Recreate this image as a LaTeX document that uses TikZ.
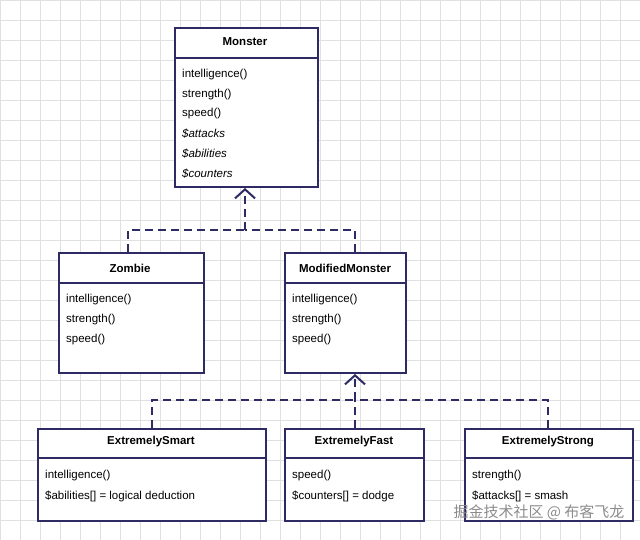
\documentclass[tikz,border=0pt]{standalone}
\usepackage{fontspec}
\setmainfont{Liberation Sans}
\newfontfamily\cjk{Noto Sans CJK SC}
\usetikzlibrary{positioning,arrows.meta}
\definecolor{uml}{RGB}{45,42,100}
\tikzset{
  box/.style={draw=uml,line width=2pt,fill=white,anchor=north west,inner sep=0pt},
  title/.style={font=\bfseries\fontsize{11.5}{13}\selectfont,text=black},
  row/.style={font=\fontsize{11.5}{13}\selectfont,anchor=west,text=black,inner sep=0pt},
  sep/.style={draw=uml,line width=2pt},
  inherit/.style={draw=uml,line width=2pt,dash pattern=on 8pt off 5pt},
  opentip/.style={-{Straight Barb[length=9pt,width=20pt,line width=2pt]}}
}
\begin{document}
\begin{tikzpicture}[x=1pt,y=-1pt]
\useasboundingbox (0,0) rectangle (640,540);
\fill[white] (0,0) rectangle (640,540);
\foreach \g in {0,20,...,640} \draw[black!12,line width=0.6pt] (\g,0) -- (\g,540);
\foreach \g in {0,20,...,540} \draw[black!12,line width=0.6pt] (0,\g) -- (640,\g);

% Monster
\node[box,minimum width=143pt,minimum height=159pt] (monster) at (174,27) {};
\node[title] (monstert) at (245,42) {Monster};
\draw[sep] (174,58) -- (317,58);
\node[row] (m1) at (182,75) {intelligence()};
\node[row] (m2) at (182,95) {strength()};
\node[row] (m3) at (182,114) {speed()};
\node[row] (m4) at (182,134) {\itshape\$attacks};
\node[row] (m5) at (182,154) {\itshape\$abilities};
\node[row] (m6) at (182,174) {\itshape\$counters};

% Zombie
\node[box,minimum width=145pt,minimum height=120pt] (zombie) at (58,252) {};
\node[title] (zombiet) at (130,268) {Zombie};
\draw[sep] (58,283) -- (203,283);
\node[row] (z1) at (66,300) {intelligence()};
\node[row] (z2) at (66,320) {strength()};
\node[row] (z3) at (66,340) {speed()};

% ModifiedMonster
\node[box,minimum width=121pt,minimum height=120pt] (modified) at (284,252) {};
\node[title] (modifiedt) at (345,268) {ModifiedMonster};
\draw[sep] (284,283) -- (405,283);
\node[row] (mm1) at (292,300) {intelligence()};
\node[row] (mm2) at (292,320) {strength()};
\node[row] (mm3) at (292,340) {speed()};

% ExtremelySmart
\node[box,minimum width=228pt,minimum height=92pt] (smart) at (37,428) {};
\node[title] (smartt) at (151,442) {ExtremelySmart};
\draw[sep] (37,458) -- (265,458);
\node[row] (s1) at (45,476) {intelligence()};
\node[row] (s2) at (45,496) {\$abilities[] = logical deduction};

% ExtremelyFast
\node[box,minimum width=139pt,minimum height=92pt] (fast) at (284,428) {};
\node[title] (fastt) at (354,442) {ExtremelyFast};
\draw[sep] (284,458) -- (423,458);
\node[row] (f1) at (292,476) {speed()};
\node[row] (f2) at (292,496) {\$counters[] = dodge};

% ExtremelyStrong
\node[box,minimum width=168pt,minimum height=92pt] (strong) at (464,428) {};
\node[title] (strongt) at (548,442) {ExtremelyStrong};
\draw[sep] (464,458) -- (632,458);
\node[row] (st1) at (472,476) {strength()};
\node[row] (st2) at (472,496) {\$attacks[] = smash};

% inheritance
\coordinate (j1) at (245,230);
\coordinate (j2) at (355,400);
\draw[inherit] (zombie.north west) ++(70,0) |- (j1);
\draw[inherit] (modified.north west) ++(71,0) |- (j1);
\draw[inherit,opentip] (j1) -- (245,188);
\draw[inherit] (smart.north west) ++(115,0) |- (j2);
\draw[inherit] (strong.north west) ++(84,0) |- (j2);
\draw[inherit] (fast.north west) ++(71,0) -- (j2);
\draw[inherit,opentip] (j2) -- (355,374);

\node[font=\cjk\fontsize{15}{17}\selectfont,text=black!45,anchor=east] (mark) at (628,512) {掘金技术社区 @ 布客飞龙};
\end{tikzpicture}
\end{document}
